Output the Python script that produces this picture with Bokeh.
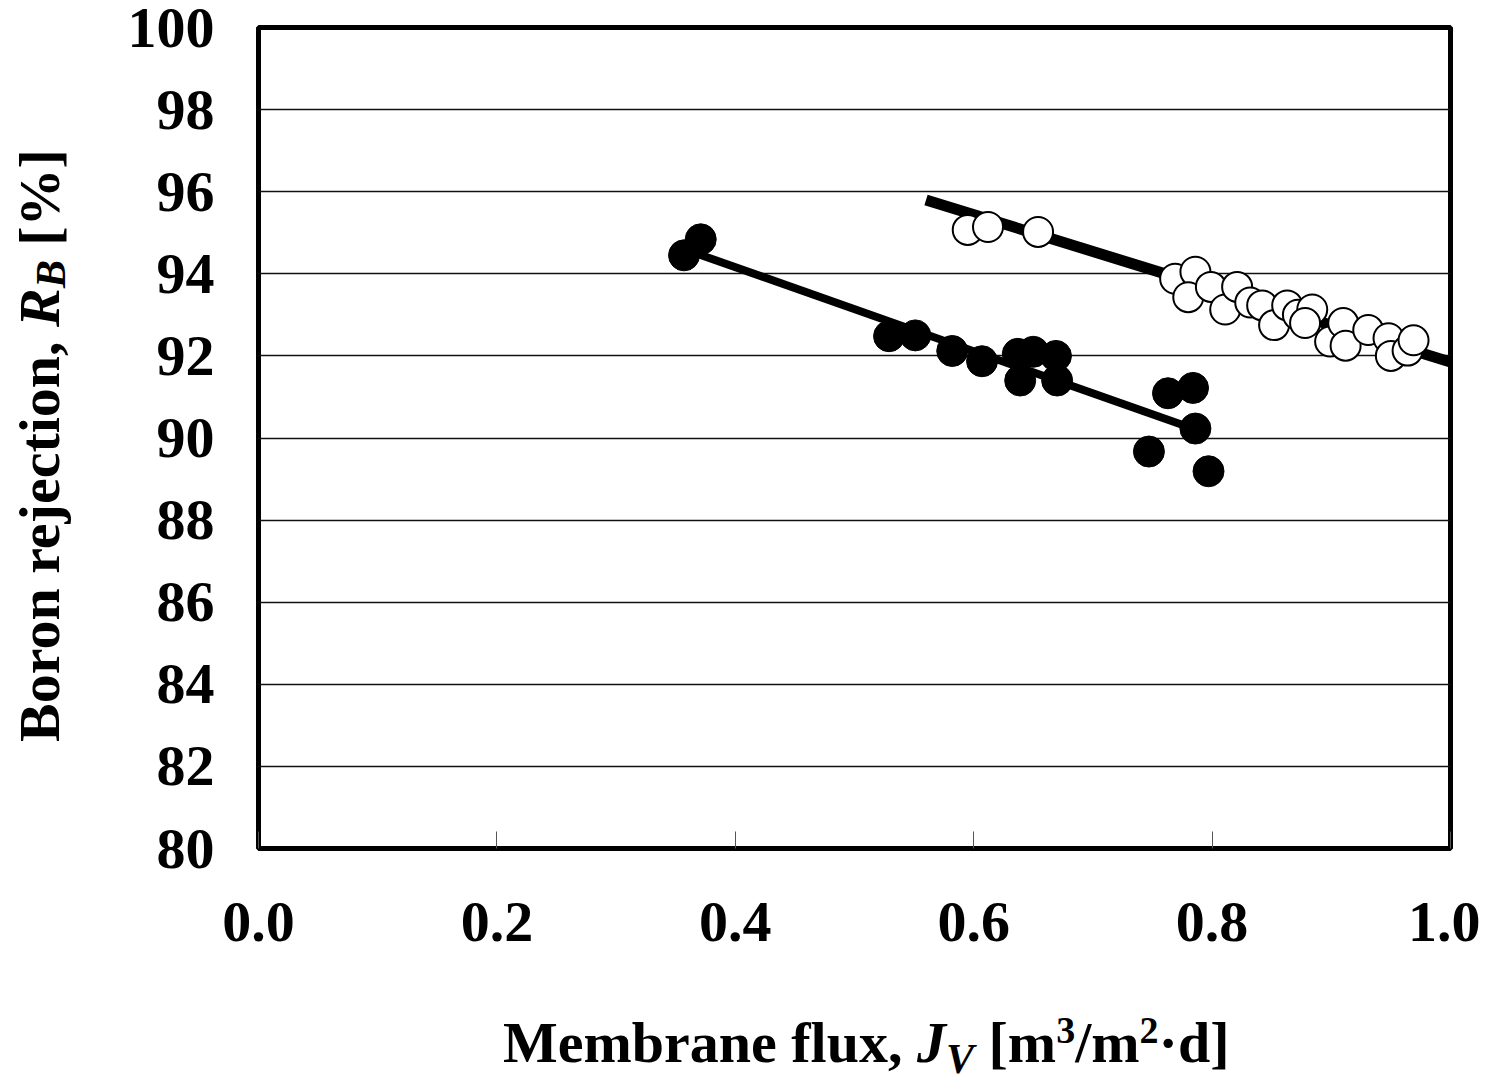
from bokeh.plotting import figure
from bokeh.models import Range1d, FixedTicker, Div
from bokeh.layouts import row, column
from bokeh.embed import file_html
from bokeh.resources import INLINE

# ---------------- data ----------------
x_ticks = [0.0, 0.2, 0.4, 0.6, 0.8, 1.0]
x_tick_labels = ["0.0", "0.2", "0.4", "0.6", "0.8", "1.0"]
y_ticks = [80, 82, 84, 86, 88, 90, 92, 94, 96, 98, 100]

filled_x = [0.357, 0.371, 0.529, 0.551, 0.582, 0.607, 0.637, 0.650, 0.669,
            0.639, 0.670, 0.763, 0.784, 0.786, 0.747, 0.797]
filled_y = [94.45, 94.84, 92.48, 92.50, 92.12, 91.87, 92.05, 92.10, 92.00,
            91.40, 91.40, 91.09, 91.22, 90.23, 89.67, 89.19]

open_x = [0.595, 0.612, 0.654, 0.769, 0.786, 0.780, 0.799, 0.811, 0.821,
          0.832, 0.842, 0.852, 0.863, 0.872, 0.884, 0.878, 0.899, 0.910,
          0.912, 0.931, 0.948, 0.950, 0.964, 0.969]
open_y = [95.07, 95.14, 95.02, 93.88, 94.05, 93.43, 93.68, 93.13, 93.68,
          93.30, 93.23, 92.75, 93.23, 93.00, 93.13, 92.80, 92.35, 92.80,
          92.25, 92.63, 92.43, 92.00, 92.13, 92.38]

fit_filled_x = [0.362, 0.782]
fit_filled_y = [94.55, 90.25]
fit_open_x = [0.56, 1.0]
fit_open_y = [95.80, 91.85]

x_title_html = ("Membrane flux, <i>J</i><span style=\"font-size:42px; position:relative; top:11px;\"><i>V</i></span>"
                " [m<span style=\"font-size:38px; position:relative; top:-19px;\">3</span>/m"
                "<span style=\"font-size:38px; position:relative; top:-19px;\">2</span>\u00b7d]")
y_title_html = ("Boron rejection, <i>R</i><span style=\"font-size:42px; position:relative; left:-11px;\"><i>B</i></span>"
                " [%]")

# ---------------- figure ----------------
FONT = "Liberation Serif"
YDIV_W = 80
P_W, P_H = 1400, 980

p = figure(width=P_W, height=P_H,
           x_range=Range1d(0, 1), y_range=Range1d(80, 100),
           output_backend="svg", toolbar_location=None,
           min_border_left=258 - YDIV_W, min_border_right=30,
           min_border_top=27, min_border_bottom=P_H - 848)
p.background_fill_color = "white"
p.border_fill_color = "white"
p.outline_line_color = "black"
p.outline_line_width = 5

p.xaxis.ticker = FixedTicker(ticks=x_ticks)
p.xaxis.major_label_overrides = {t: l for t, l in zip(x_ticks, x_tick_labels)}
p.yaxis.ticker = FixedTicker(ticks=y_ticks)

for ax in (p.xaxis, p.yaxis):
    ax.axis_line_color = None
    ax.minor_tick_line_color = None
    ax.major_label_text_font = FONT
    ax.major_label_text_font_style = "bold"
    ax.major_label_text_font_size = "58px"
    ax.major_label_text_color = "black"

p.xaxis.major_tick_in = 17
p.xaxis.major_tick_out = 0
p.xaxis.major_tick_line_color = "#555555"
p.xaxis.major_tick_line_width = 1
p.xaxis.major_label_standoff = 54

p.yaxis.major_tick_line_color = None
p.yaxis.major_tick_in = 0
p.yaxis.major_tick_out = 0
p.yaxis.major_label_standoff = 44

p.xgrid.grid_line_color = None
p.ygrid.grid_line_color = "#111111"
p.ygrid.grid_line_width = 1.5

# ---------------- marks ----------------
p.line(fit_filled_x, fit_filled_y, line_color="black", line_width=8)
p.line(fit_open_x, fit_open_y, line_color="black", line_width=11)
p.scatter(open_x, open_y, marker="circle", size=30,
          fill_color="white", line_color="black", line_width=2)
p.scatter(filled_x, filled_y, marker="circle", size=31,
          fill_color="black", line_color="black", line_width=1)

# ---------------- axis titles as real HTML text ----------------
base_style = ("font-family:'Liberation Serif'; font-weight:bold; font-size:58px; "
              "color:black; white-space:nowrap;")

xdiv = Div(text=(f'<div style="{base_style} line-height:58px; padding-left:423px; padding-top:34px;">'
                 f'{x_title_html}</div>'),
           width=P_W, height=1075 - P_H, margin=0)

ydiv = Div(text=(f'<div style="{base_style} writing-mode:vertical-rl; transform:rotate(180deg); '
                 f'width:{YDIV_W}px; height:848px; box-sizing:border-box; padding-top:106px; '
                 f'line-height:{YDIV_W}px;">{y_title_html}</div>'),
           width=YDIV_W, height=P_H, margin=0)

layout = row(ydiv, column(p, xdiv, spacing=0), spacing=0)

open("out.html", "w").write(file_html(layout, INLINE))
